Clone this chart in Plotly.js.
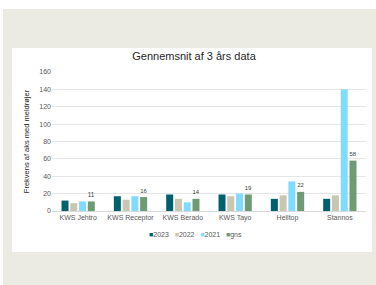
<!DOCTYPE html>
<html>
<head>
<meta charset="utf-8">
<script src="https://cdn.plot.ly/plotly-3.0.1.min.js"></script>
<style>
html,body{margin:0;padding:0;background:#ffffff;}
#bg{position:absolute;left:3px;top:9px;width:373px;height:276px;background:#EBEBE3;}
#chart{position:absolute;left:0;top:0;width:376px;height:285px;}
</style>
</head>
<body>
<div id="bg"></div>
<div id="chart"></div>
<script>
const categories = ["KWS Jehtro", "KWS Receptor", "KWS Berado", "KWS Tayo", "Helltop", "Stannos"];
const v2023 = [12, 17, 19, 19, 14, 14];
const v2022 = [9, 13, 14, 17, 18, 18];
const v2021 = [11, 17, 10, 20, 34, 140];
const gns = [11, 16, 14, 19, 22, 58];
const seriesNames = ["2023", "2022", "2021", "gns"];
const colors = ["#00616E", "#C9C7B1", "#7FDCFF", "#6E9A74"];
const yTicks = [0, 20, 40, 60, 80, 100, 120, 140, 160];

const allVals = [v2023, v2022, v2021, gns];
const traces = allVals.map((vals, i) => {
  const t = {
    type: "bar",
    name: seriesNames[i],
    x: categories,
    y: vals,
    marker: {color: colors[i]},
    hoverinfo: "none"
  };
  if (seriesNames[i] === "gns") {
    t.text = vals.map(String);
    t.textposition = "outside";
    t.textfont = {size: 8, color: "#404040", family: "Liberation Sans, Arial, sans-serif"};
    t.cliponaxis = false;
  }
  return t;
});

const legendText = seriesNames.map((n, i) =>
  '<span style="color:' + colors[i] + '">■</span>' + n).join("&nbsp;&nbsp;&nbsp;");

const L = 52, R = 10, T = 72, B = 74;
const PW = 376 - L - R, PH = 285 - T - B;

const layout = {
  width: 376, height: 285,
  paper_bgcolor: "rgba(0,0,0,0)",
  plot_bgcolor: "rgba(0,0,0,0)",
  margin: {l: L, r: R, t: T, b: B, pad: 0},
  font: {family: "Liberation Sans, Arial, sans-serif", color: "#595959", size: 7},
  title: {text: "Gennemsnit af 3 års data", font: {size: 11, color: "#262626"},
          x: 194/376, xanchor: "center", y: 1 - 56/285, yanchor: "middle", yref: "container", xref: "container"},
  barmode: "group",
  bargap: 0.33,
  bargroupgap: 0.2,
  showlegend: false,
  xaxis: {tickfont: {size: 7, color: "#595959"}, showline: true, linecolor: "#D9D9D9",
          ticks: "", fixedrange: true},
  yaxis: {range: [0, 160], tickvals: yTicks, ticktext: yTicks.map(String),
          gridcolor: "#E6E6E6", zeroline: false, showline: false,
          tickfont: {size: 7, color: "#595959"}, ticks: "", ticklen: 0,
          title: {text: "Frekvens af aks med meldrøjer", font: {size: 7.5, color: "#262626"}, standoff: 8}},
  annotations: [{xref: "paper", yref: "paper", x: (195-L)/PW, y: (211-235)/PH,
                 xanchor: "center", yanchor: "middle", showarrow: false,
                 text: legendText, font: {size: 7, color: "#595959"}}],
  shapes: [{type: "rect", xref: "paper", yref: "paper",
            x0: (12-L)/PW, x1: (372-L)/PW, y0: (211-252)/PH, y1: (211-48)/PH,
            fillcolor: "#ffffff", line: {width: 0}, layer: "below"}]
};

Plotly.newPlot("chart", traces, layout, {displayModeBar: false, staticPlot: true});
</script>
</body>
</html>
